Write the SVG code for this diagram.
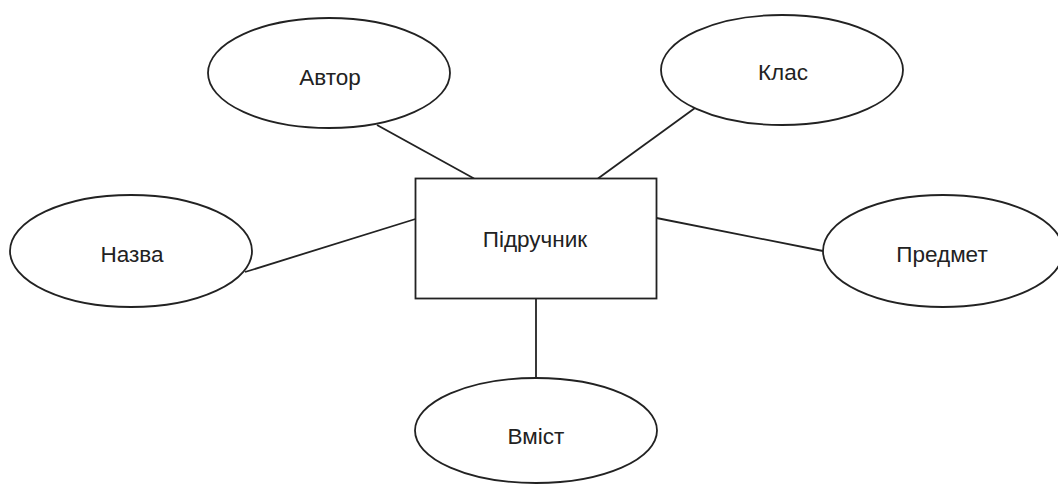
<svg xmlns="http://www.w3.org/2000/svg" width="1058" height="486" viewBox="0 0 1058 486">
  <style>
    .shape { fill: #ffffff; stroke: #222222; stroke-width: 1.8; }
    .edge { stroke: #222222; stroke-width: 1.8; fill: none; }
    .label { font-family: "Liberation Sans", Arial, sans-serif; font-size: 22.5px; fill: #222222; text-anchor: middle; }
  </style>
  <rect width="1058" height="486" fill="#ffffff"/>

  <!-- links between the entity and its attributes -->
  <g id="connectors">
    <line class="edge" x1="377" y1="125" x2="474" y2="178.5"/>
    <line class="edge" x1="695" y1="108" x2="598" y2="178.5"/>
    <line class="edge" x1="245" y1="272" x2="415.5" y2="219"/>
    <line class="edge" x1="656.5" y1="218" x2="823" y2="251"/>
    <line class="edge" x1="536" y1="298.5" x2="536" y2="378"/>
  </g>

  <!-- entity -->
  <g id="pidruchnyk">
    <rect class="shape" x="415.5" y="178.5" width="241" height="120"/>
    <text class="label" x="535" y="247">Підручник</text>
  </g>

  <!-- attributes -->
  <g id="avtor">
    <ellipse class="shape" cx="329" cy="73" rx="121" ry="55"/>
    <text class="label" x="330" y="85">Автор</text>
  </g>
  <g id="klas">
    <ellipse class="shape" cx="782" cy="70" rx="121" ry="55"/>
    <text class="label" x="783" y="80">Клас</text>
  </g>
  <g id="nazva">
    <ellipse class="shape" cx="131" cy="251" rx="121" ry="56"/>
    <text class="label" x="132" y="262">Назва</text>
  </g>
  <g id="predmet">
    <ellipse class="shape" cx="943" cy="251" rx="120" ry="56"/>
    <text class="label" x="942" y="262">Предмет</text>
  </g>
  <g id="vmist">
    <ellipse class="shape" cx="536" cy="430.5" rx="121" ry="52.5"/>
    <text class="label" x="536" y="444">Вміст</text>
  </g>
</svg>
